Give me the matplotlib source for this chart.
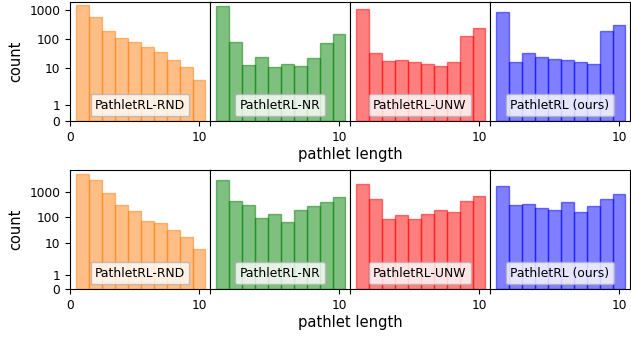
import matplotlib
matplotlib.use("Agg")
import matplotlib.pyplot as plt
import numpy as np
from matplotlib.offsetbox import AnchoredText
from matplotlib.ticker import NullLocator

lengths = [1, 2, 3, 4, 5, 6, 7, 8, 9, 10]
methods = ["PathletRL-RND", "PathletRL-NR", "PathletRL-UNW", "PathletRL (ours)"]
colors = ["C1", "g", "r", "b"]

# top row counts
top_rnd = [1446, 589, 190, 112, 80, 52, 36, 19, 11, 4]
top_nr = [1365, 81, 13, 24, 11, 14, 12, 22, 74, 146]
top_unw = [1079, 33, 18, 19, 16, 14, 12, 17, 128, 241]
top_ours = [832, 17, 34, 24, 21, 19, 17, 14, 190, 313]

# bottom row counts
bot_rnd = [4930, 2871, 889, 310, 180, 73, 58, 31, 17, 6]
bot_nr = [3056, 432, 302, 93, 138, 65, 187, 269, 385, 638]
bot_unw = [2000, 550, 85, 119, 83, 138, 197, 170, 432, 700]
bot_ours = [1718, 302, 339, 237, 197, 407, 157, 269, 519, 794]

rows = [[top_rnd, top_nr, top_unw, top_ours],
        [bot_rnd, bot_nr, bot_unw, bot_ours]]
row_ylim = [1884, 7250]

yticks = [0, 1, 10, 100, 1000]
ytick_labels = ["0", "1", "10", "100", "1000"]
xticks = [0, 10]

W, H = 631, 341
fig = plt.figure(figsize=(W / 100, H / 100), dpi=100)

col_left = [70, 210, 350, 490]
col_w = 140
row_top = [2, 170]
row_h = 119

for r, data in enumerate(rows):
    for c, counts in enumerate(data):
        ax = fig.add_axes([col_left[c] / W, 1 - (row_top[r] + row_h) / H,
                           col_w / W, row_h / H])
        ax.bar(lengths, counts, width=1.0, color=colors[c], alpha=0.5,
               edgecolor=colors[c], linewidth=1.0)
        ax.set_yscale("symlog", linthresh=2, linscale=1)
        ax.set_ylim(0, row_ylim[r])
        ax.set_xlim(0, 10.85)
        ax.set_yticks(yticks)
        ax.yaxis.set_minor_locator(NullLocator())
        ax.set_xticks(xticks)
        if c == 0:
            ax.set_yticklabels(ytick_labels)
            ax.set_ylabel("count", fontsize=10.5)
            ax.set_xticklabels(["0", "10"])
        else:
            ax.tick_params(axis="y", left=False, labelleft=False)
            ax.set_xticklabels(["", "10"])
        ax.tick_params(labelsize=8.8, length=3.5, width=0.8)
        for sp in ax.spines.values():
            sp.set_linewidth(0.8)
        at = AnchoredText(methods[c], loc="lower center", pad=0.35,
                          borderpad=0.4, frameon=True,
                          prop=dict(size=8.9))
        at.patch.set_boxstyle("round,pad=0,rounding_size=0.15")
        at.patch.set_facecolor("white")
        at.patch.set_alpha(0.8)
        at.patch.set_edgecolor("0.7")
        ax.add_artist(at)
    fig.text(350 / W, 1 - (row_top[r] + row_h + 34) / H, "pathlet length",
             ha="center", va="center", fontsize=10.6)

fig.savefig("out.png", dpi=100)
